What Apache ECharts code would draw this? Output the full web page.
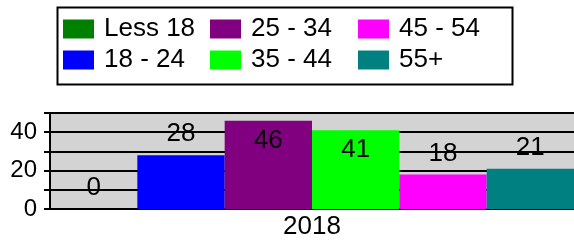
<!DOCTYPE html>
<html style="height: 100%">
<head>
<meta charset="UTF-8">
<style>body{margin:0;background:#fff}</style>
</head>
<body style="height: 100%; margin: 0">
<div id="container" style="width:574px;height:244px"></div>
<script src="https://cdn.jsdelivr.net/npm/echarts@6/dist/echarts.min.js"></script>
<script>
var years = ['2018'];
var groups = ['Less 18', '18 - 24', '25 - 34', '35 - 44', '45 - 54', '55+'];
var values = [0, 28, 46, 41, 18, 21];
var colors = ['#008000', '#0000ff', '#800080', '#00ff00', '#ff00ff', '#008080'];
var yTicks = [0, 20, 40];

var font = 'Liberation Sans, Arial, sans-serif';
var myChart = echarts.init(document.getElementById('container'));

var legendCols = [63, 210, 358];
var legends = legendCols.map(function (x, i) {
    return {
        orient: 'vertical',
        left: x,
        top: 16,
        padding: 0,
        itemGap: 5,
        itemWidth: 31,
        itemHeight: 19,
        icon: 'rect',
        selectedMode: false,
        data: groups.slice(i * 2, i * 2 + 2),
        textStyle: { fontFamily: font, fontSize: 26, color: '#000', padding: [0, 0, 0, 5] }
    };
});

var series = groups.map(function (g, i) {
    return {
        name: g,
        type: 'bar',
        data: [values[i]],
        barGap: '0%',
        barCategoryGap: '0%',
        itemStyle: { color: colors[i] },
        label: {
            show: true,
            position: values[i] > 35 ? 'insideTop' : 'top',
            distance: values[i] > 35 ? 7 : 8,
            fontFamily: font,
            fontSize: 26,
            color: '#000'
        }
    };
});

var option = {
    animation: false,
    color: colors,
    legend: legends,
    graphic: [{
        type: 'rect',
        left: 55, top: 5,
        shape: { width: 455, height: 77 },
        style: { fill: 'none', stroke: '#000', lineWidth: 2 },
        z: 100
    }],
    grid: {
        left: 50, right: 0, top: 113, bottom: 35,
        show: true, backgroundColor: '#d3d3d3', borderWidth: 0
    },
    xAxis: {
        type: 'category',
        data: years,
        axisLine: { lineStyle: { color: '#000', width: 1.5 } },
        axisTick: { alignWithLabel: true, length: 3, lineStyle: { color: '#000' } },
        axisLabel: { fontFamily: font, fontSize: 26, color: '#000', margin: 5 }
    },
    yAxis: {
        type: 'value',
        min: 0, max: 50, interval: 10,
        axisLine: { show: true, lineStyle: { color: '#000', width: 2 } },
        axisTick: { show: true, length: 6, lineStyle: { color: '#000', width: 2 } },
        splitLine: { lineStyle: { color: '#000', width: 2 } },
        axisLabel: {
            fontFamily: font, fontSize: 24, color: '#000', margin: 13,
            formatter: function (v) { return yTicks.indexOf(v) >= 0 ? String(v) : ''; }
        }
    },
    series: series
};
myChart.setOption(option);
</script>
</body>
</html>
